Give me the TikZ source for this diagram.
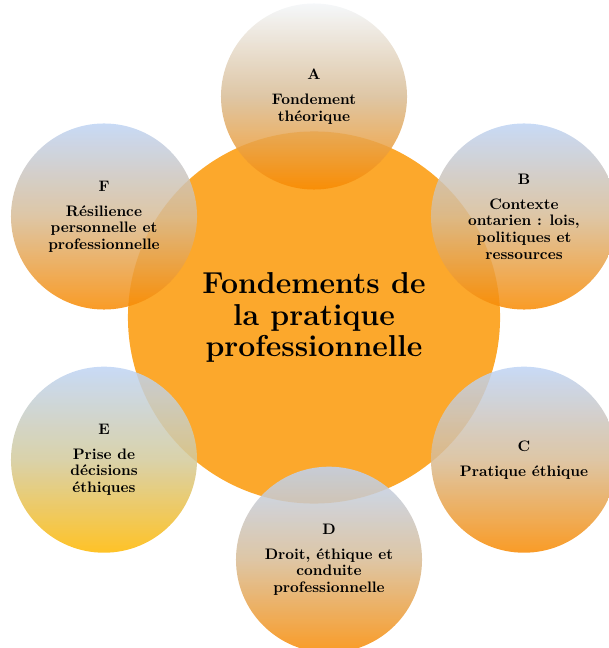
\documentclass[tikz,border=0pt]{standalone}
\usetikzlibrary{positioning}
\definecolor{bleupale}{RGB}{190,211,244}
\definecolor{blanchi}{RGB}{243,246,249}
\definecolor{beige}{RGB}{216,188,149}
\definecolor{orangefonce}{RGB}{249,138,0}
\definecolor{orangecentre}{RGB}{252,168,44}
\definecolor{jaune}{RGB}{255,184,0}
\definecolor{vertpale}{RGB}{211,202,155}
\tikzset{centre/.style={circle, fill=orangecentre, minimum size=9.3cm, inner sep=0pt, align=center, font=\bfseries\fontsize{21.5}{22.7}\selectfont}}
\tikzset{bulle/.style={circle, minimum size=4.65cm, inner sep=0pt, align=center, top color=bleupale, bottom color=orangefonce, middle color=beige, fill opacity=0.85, text opacity=1, font=\bfseries\fontsize{10.8}{11.8}\selectfont}}

\begin{document}
\begin{tikzpicture}[x=0.025cm, y=-0.025cm]
\useasboundingbox (0,0) rectangle (608,648);

\node[centre] (fond) at (314, 317.5) {Fondements de\\la pratique\\professionnelle};

\node[bulle, top color=blanchi, middle color=beige] (A) at (314, 96.5) {A\\[6pt]Fondement\\th\'eorique};
\node[bulle] (B) at (524, 216.5) {B\\[6pt]Contexte\\ontarien : lois,\\politiques et\\ressources};
\node[bulle] (C) at (524, 459.7) {C\\[6pt]Pratique \'ethique};
\node[bulle] (D) at (329, 559.7) {D\\[6pt]Droit, \'ethique et\\conduite\\professionnelle};
\node[bulle, bottom color=jaune, middle color=vertpale] (E) at (104, 459.7) {E\\[6pt]Prise de\\d\'ecisions\\\'ethiques};
\node[bulle] (F) at (104, 216.5) {F\\[6pt]R\'esilience\\personnelle et\\professionnelle};
\end{tikzpicture}
\end{document}
